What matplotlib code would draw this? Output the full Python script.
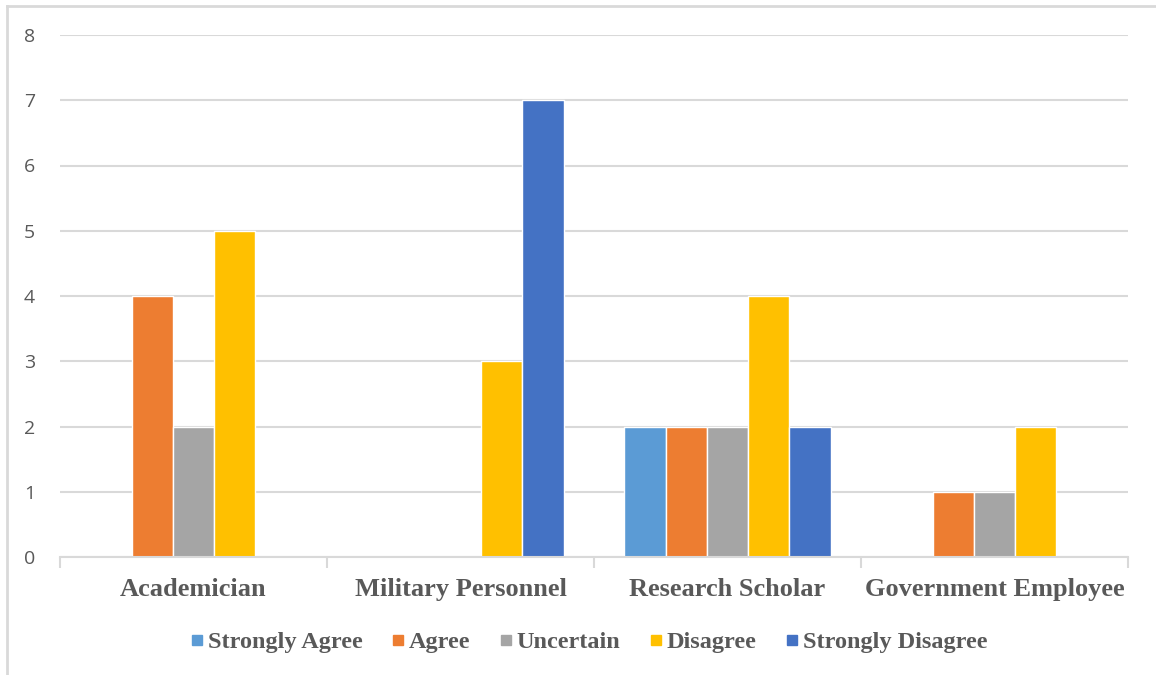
import numpy as np
import matplotlib.pyplot as plt
from matplotlib.lines import Line2D

categories = ["Academician", "Military Personnel", "Research Scholar", "Government Employee"]
series = ["Strongly Agree", "Agree", "Uncertain", "Disagree", "Strongly Disagree"]
strongly_agree = [0, 0, 2, 0]
agree = [4, 0, 2, 1]
uncertain = [2, 0, 2, 1]
disagree = [5, 3, 4, 2]
strongly_disagree = [0, 7, 2, 0]
values = [strongly_agree, agree, uncertain, disagree, strongly_disagree]
colors = ["#5B9BD5", "#ED7D31", "#A5A5A5", "#FFC000", "#4472C4"]

grid_c = "#D9D9D9"
text_c = "#595959"
serif = ["Liberation Serif", "DejaVu Serif"]

fig = plt.figure(figsize=(11.56, 6.75), dpi=100)
ax = fig.add_axes([60 / 1156, 1 - 557 / 675, 1068 / 1156, 522 / 675])

x = np.arange(len(categories))
pitch = 0.1547
for i, (name, vals) in enumerate(zip(series, values)):
    ax.bar(x + (i - 2) * pitch, vals, width=pitch, color=colors[i],
           edgecolor="white", linewidth=1.0, label=name, zorder=3)

ax.set_xlim(-0.5, len(categories) - 0.5)
ax.set_ylim(0, 8)
ax.set_yticks(range(0, 9))
ax.yaxis.grid(True, color=grid_c, linewidth=1.5, zorder=0)
ax.tick_params(axis="y", length=0, pad=18, labelsize=14, labelcolor=text_c)
for lbl in ax.get_yticklabels():
    lbl.set_family(["Open Sans", "DejaVu Sans"])

ax.set_xticks(x)
ax.set_xticklabels(categories, fontsize=19, fontweight="bold", family=serif, color=text_c)
ax.tick_params(axis="x", length=0, pad=15)
ax.set_xticks(np.arange(-0.5, len(categories)), minor=True)
ax.tick_params(axis="x", which="minor", length=8, width=1.5, color=grid_c)

for s in ["top", "right", "left"]:
    ax.spines[s].set_visible(False)
ax.spines["bottom"].set_color(grid_c)
ax.spines["bottom"].set_linewidth(1.5)
ax.spines["bottom"].set_zorder(4)

handles = [Line2D([], [], marker="s", linestyle="none", markersize=7,
                  markerfacecolor=c, markeredgecolor=c) for c in colors]
fig.legend(handles, series, loc="center", bbox_to_anchor=(589 / 1156, 1 - 642 / 675),
           ncol=5, frameon=False, handlelength=0.5, handletextpad=0.2, columnspacing=1.2,
           prop={"family": serif, "weight": "bold", "size": 17.5}, labelcolor=text_c)

# thin frame along the top and left edges
fig.add_artist(Line2D([7 / 1156, 7 / 1156], [0, 1 - 6 / 675], transform=fig.transFigure,
                      color=grid_c, linewidth=2))
fig.add_artist(Line2D([7 / 1156, 1], [1 - 6 / 675, 1 - 6 / 675], transform=fig.transFigure,
                      color=grid_c, linewidth=2))

fig.savefig("out.png", dpi=100)
